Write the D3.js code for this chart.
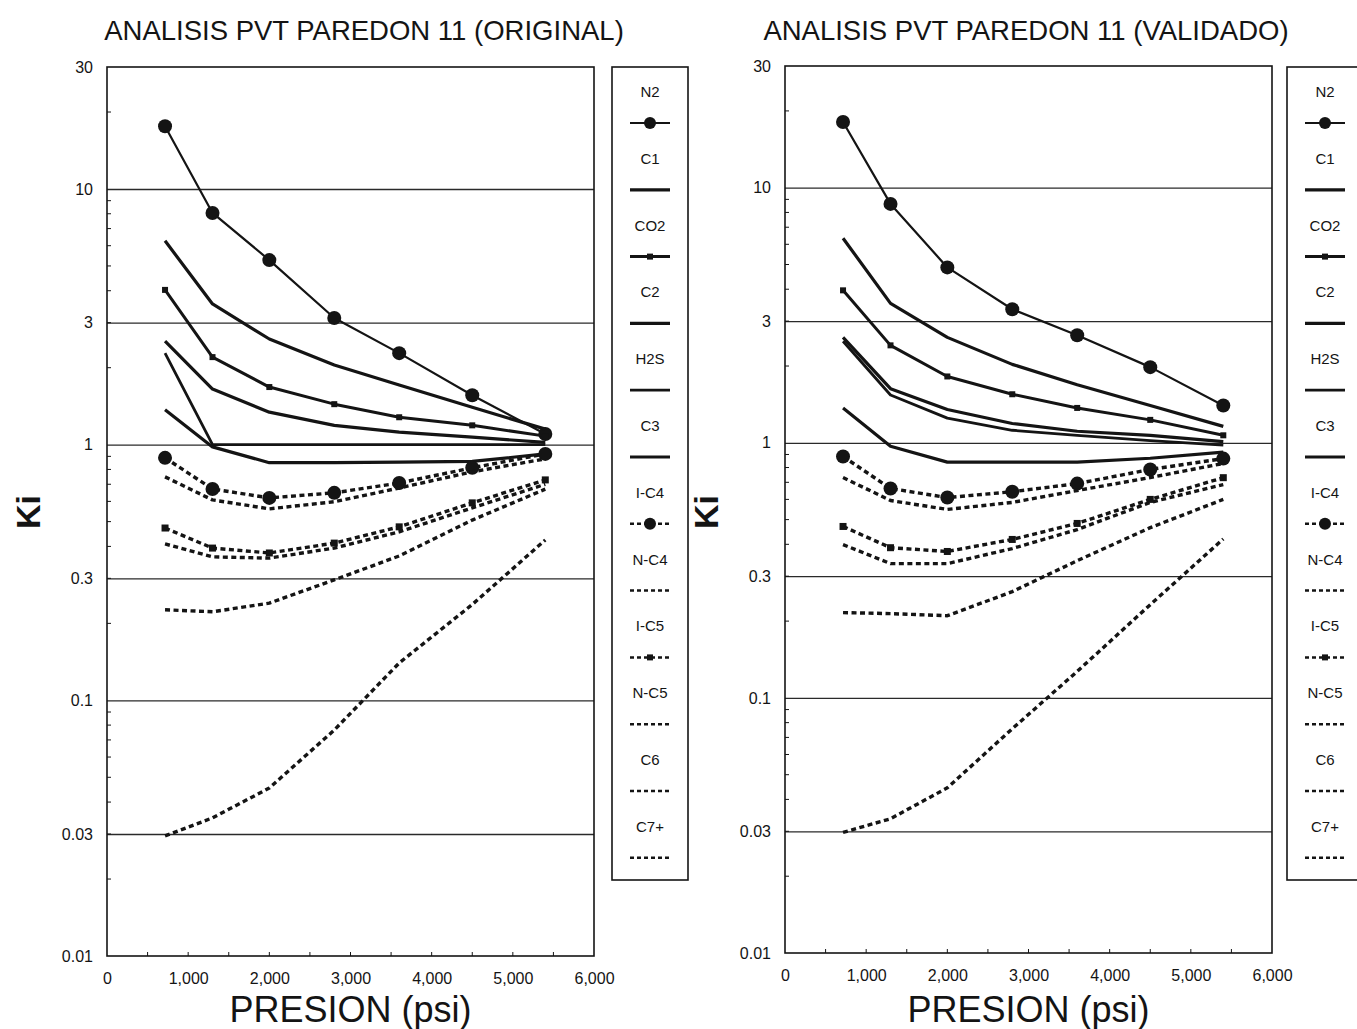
<!DOCTYPE html>
<html><head><meta charset="utf-8">
<script src="https://cdn.jsdelivr.net/npm/d3@7"></script>
<style>
body{margin:0;background:#fff}
svg{display:block}
text{font-family:"Liberation Sans",Arial,sans-serif;fill:#141414}
</style>
</head><body>
<svg id="c" width="1357" height="1029"></svg>
<script>
// ---------- DATA ----------
const pressures = [715, 1300, 2000, 2800, 3600, 4500, 5400];
const components = ["N2","C1","CO2","C2","H2S","C3","I-C4","N-C4","I-C5","N-C5","C6","C7+"];
const yTickValues = [0.01, 0.03, 0.1, 0.3, 1, 3, 10, 30];
const yTickLabels = ["0.01","0.03","0.1","0.3","1","3","10","30"];
const xTickValues = [0, 1000, 2000, 3000, 4000, 5000, 6000];
const xTickLabels = ["0","1,000","2,000","3,000","4,000","5,000","6,000"];
const titles = ["ANALISIS PVT PAREDON 11 (ORIGINAL)", "ANALISIS PVT PAREDON 11 (VALIDADO)"];

// ORIGINAL
const origN2  = [17.6, 8.06, 5.27, 3.13, 2.28, 1.56, 1.10];
const origC1  = [6.27, 3.55, 2.59, 2.05, 1.71, 1.40, 1.15];
const origCO2 = [4.03, 2.20, 1.68, 1.44, 1.28, 1.19, 1.08];
const origC2  = [2.54, 1.65, 1.34, 1.19, 1.12, 1.07, 1.02];
const origH2S = [2.28, 1.00, 1.00, 1.00, 1.00, 1.00, 1.00];
const origC3  = [1.37, 0.98, 0.85, 0.85, 0.855, 0.86, 0.92];
const origIC4 = [0.888, 0.671, 0.619, 0.648, 0.708, 0.812, 0.92];
const origNC4 = [0.748, 0.608, 0.561, 0.598, 0.677, 0.783, 0.88];
const origIC5 = [0.472, 0.394, 0.377, 0.412, 0.477, 0.592, 0.728];
const origNC5 = [0.409, 0.364, 0.360, 0.394, 0.456, 0.566, 0.70];
const origC6  = [0.226, 0.222, 0.240, 0.296, 0.367, 0.507, 0.67];
const origC7p = [0.0295, 0.0347, 0.0454, 0.0765, 0.14, 0.237, 0.424];

// VALIDADO
const valN2  = [18.1, 8.64, 4.87, 3.34, 2.64, 1.98, 1.40];
const valC1  = [6.34, 3.52, 2.59, 2.03, 1.69, 1.40, 1.16];
const valCO2 = [3.96, 2.41, 1.82, 1.55, 1.37, 1.23, 1.07];
const valC2  = [2.59, 1.63, 1.35, 1.19, 1.11, 1.07, 1.01];
const valH2S = [2.50, 1.54, 1.25, 1.12, 1.07, 1.02, 0.98];
const valC3  = [1.37, 0.97, 0.84, 0.84, 0.84, 0.87, 0.92];
const valIC4 = [0.884, 0.662, 0.61, 0.643, 0.692, 0.786, 0.867];
const valNC4 = [0.731, 0.594, 0.548, 0.584, 0.65, 0.731, 0.83];
const valIC5 = [0.47, 0.388, 0.375, 0.418, 0.483, 0.60, 0.73];
const valNC5 = [0.399, 0.336, 0.336, 0.385, 0.457, 0.584, 0.686];
const valC6  = [0.216, 0.214, 0.21, 0.261, 0.345, 0.465, 0.60];
const valC7p = [0.0297, 0.0336, 0.0444, 0.0757, 0.127, 0.232, 0.42];

const originalSeries = [origN2, origC1, origCO2, origC2, origH2S, origC3, origIC4, origNC4, origIC5, origNC5, origC6, origC7p];
const validatedSeries = [valN2, valC1, valCO2, valC2, valH2S, valC3, valIC4, valNC4, valIC5, valNC5, valC6, valC7p];

// ---------- STYLES ----------
const styles = {
  "N2":  {w:2.2, dash:null, marker:"circle", r:7},
  "C1":  {w:3.2, dash:null},
  "CO2": {w:3.0, dash:null, marker:"square", s:6},
  "C2":  {w:3.2, dash:null},
  "H2S": {w:2.8, dash:null},
  "C3":  {w:3.2, dash:null},
  "I-C4":{w:3.4, dash:"5,3.5", marker:"circle", r:7},
  "N-C4":{w:3.4, dash:"5,3.5"},
  "I-C5":{w:3.4, dash:"5,3.5", marker:"square", s:7},
  "N-C5":{w:3.4, dash:"5,3.5"},
  "C6":  {w:3.4, dash:"5,3.5"},
  "C7+": {w:3.4, dash:"5,3.5"}
};

const panels = [
  {left:107, right:594, top:67, bottom:956, legX:612, titleX:364, series:originalSeries},
  {left:785, right:1272, top:66, bottom:953, legX:1287, titleX:1026, series:validatedSeries}
];

const svg = d3.select("#c");
const ink = "#141414";

panels.forEach((p, pi) => {
  const g = svg.append("g");
  const x = d3.scaleLinear().domain([0, 6000]).range([p.left, p.right]);
  const y = d3.scaleLog().domain([0.01, 30]).range([p.bottom, p.top]);

  // title
  g.append("text").attr("x", p.titleX).attr("y", 40).attr("text-anchor","middle")
    .style("font-size","27.5px").text(titles[pi]);

  // gridlines
  g.append("g").attr("transform",`translate(${p.left},0)`)
    .call(d3.axisLeft(y).tickValues([0.03,0.1,0.3,1,3,10]).tickSize(-(p.right-p.left)).tickFormat(""))
    .call(s => s.select(".domain").remove())
    .call(s => s.selectAll("line").attr("stroke","#2a2a2a").attr("stroke-width",1.3));

  // minor y ticks inside
  const minors = [];
  [0.01,0.1,1,10].forEach(dec => { for (let k=2;k<=9;k++){ const v=dec*k; if (v<30) minors.push(v);} });
  g.append("g").selectAll("line").data(minors).join("line")
    .attr("x1", p.left).attr("x2", p.left+4).attr("y1", d=>y(d)).attr("y2", d=>y(d))
    .attr("stroke", ink).attr("stroke-width",1);

  // minor x ticks inside bottom
  g.append("g").selectAll("line").data(d3.range(500, 6000, 500)).join("line")
    .attr("x1", d=>x(d)).attr("x2", d=>x(d)).attr("y1", p.bottom).attr("y2", p.bottom-4)
    .attr("stroke", ink).attr("stroke-width",1);

  // y axis labels
  g.append("g").attr("transform",`translate(${p.left},0)`)
    .call(d3.axisLeft(y).tickValues(yTickValues).tickSize(0).tickPadding(14)
      .tickFormat((d,i)=>yTickLabels[i]))
    .call(s => s.select(".domain").remove())
    .call(s => s.selectAll("text").style("font-size","16px").attr("fill",ink)
      .style("font-family",'"Liberation Sans",Arial,sans-serif'));

  // x axis labels
  g.append("g").attr("transform",`translate(0,${p.bottom})`)
    .call(d3.axisBottom(x).tickValues(xTickValues).tickSize(0).tickPadding(17)
      .tickFormat((d,i)=>xTickLabels[i]))
    .call(s => s.select(".domain").remove())
    .call(s => s.selectAll("text").style("font-size","16px").attr("fill",ink)
      .style("font-family",'"Liberation Sans",Arial,sans-serif'));

  // frame
  g.append("rect").attr("x",p.left).attr("y",p.top).attr("width",p.right-p.left).attr("height",p.bottom-p.top)
    .attr("fill","none").attr("stroke",ink).attr("stroke-width",1.6);

  // axis titles
  g.append("text").attr("x",(p.left+p.right)/2).attr("y",1022).attr("text-anchor","middle")
    .style("font-size","36px").text("PRESION (psi)");
  g.append("text").attr("transform",`translate(${p.left-67},512) rotate(-90)`).attr("text-anchor","middle")
    .style("font-size","34px").style("font-weight","bold").text("Ki");

  // series
  const line = d3.line().x(d=>x(d.p)).y(d=>y(d.v));
  components.forEach((c, ci) => {
    const st = styles[c];
    const data = pressures.map((pp, k) => ({p: pp, v: p.series[ci][k]}));
    g.append("path").datum(data).attr("d", line).attr("fill","none")
      .attr("stroke", ink).attr("stroke-width", st.w)
      .attr("stroke-dasharray", st.dash).attr("stroke-linejoin","round");
    if (st.marker === "circle") {
      g.append("g").selectAll("circle").data(data).join("circle")
        .attr("cx", d=>x(d.p)).attr("cy", d=>y(d.v)).attr("r", st.r).attr("fill", ink);
    } else if (st.marker === "square") {
      g.append("g").selectAll("rect").data(data).join("rect")
        .attr("x", d=>x(d.p)-st.s/2).attr("y", d=>y(d.v)-st.s/2)
        .attr("width", st.s).attr("height", st.s).attr("fill", ink);
    }
  });

  // legend
  const lg = g.append("g");
  const legW = 76, legTop = 67, legBot = 880;
  lg.append("rect").attr("x",p.legX).attr("y",legTop).attr("width",legW).attr("height",legBot-legTop)
    .attr("fill","#fff").attr("stroke",ink).attr("stroke-width",1.6);
  const cx = p.legX + legW/2;
  components.forEach((c, i) => {
    const st = styles[c];
    const ly = 92 + i*66.8;
    lg.append("text").attr("x",cx).attr("y",ly+5).attr("text-anchor","middle")
      .style("font-size","15px").text(c);
    const sy = ly + 31;
    lg.append("line").attr("x1",cx-20).attr("x2",cx+20).attr("y1",sy).attr("y2",sy)
      .attr("stroke",ink).attr("stroke-width", st.dash ? 2.5 : st.w)
      .attr("stroke-dasharray", st.dash ? "4,3" : null);
    if (st.marker === "circle") {
      lg.append("circle").attr("cx",cx).attr("cy",sy).attr("r",6).attr("fill",ink);
    } else if (st.marker === "square") {
      lg.append("rect").attr("x",cx-3).attr("y",sy-3).attr("width",6).attr("height",6).attr("fill",ink);
    }
  });
});
</script>
</body></html>
